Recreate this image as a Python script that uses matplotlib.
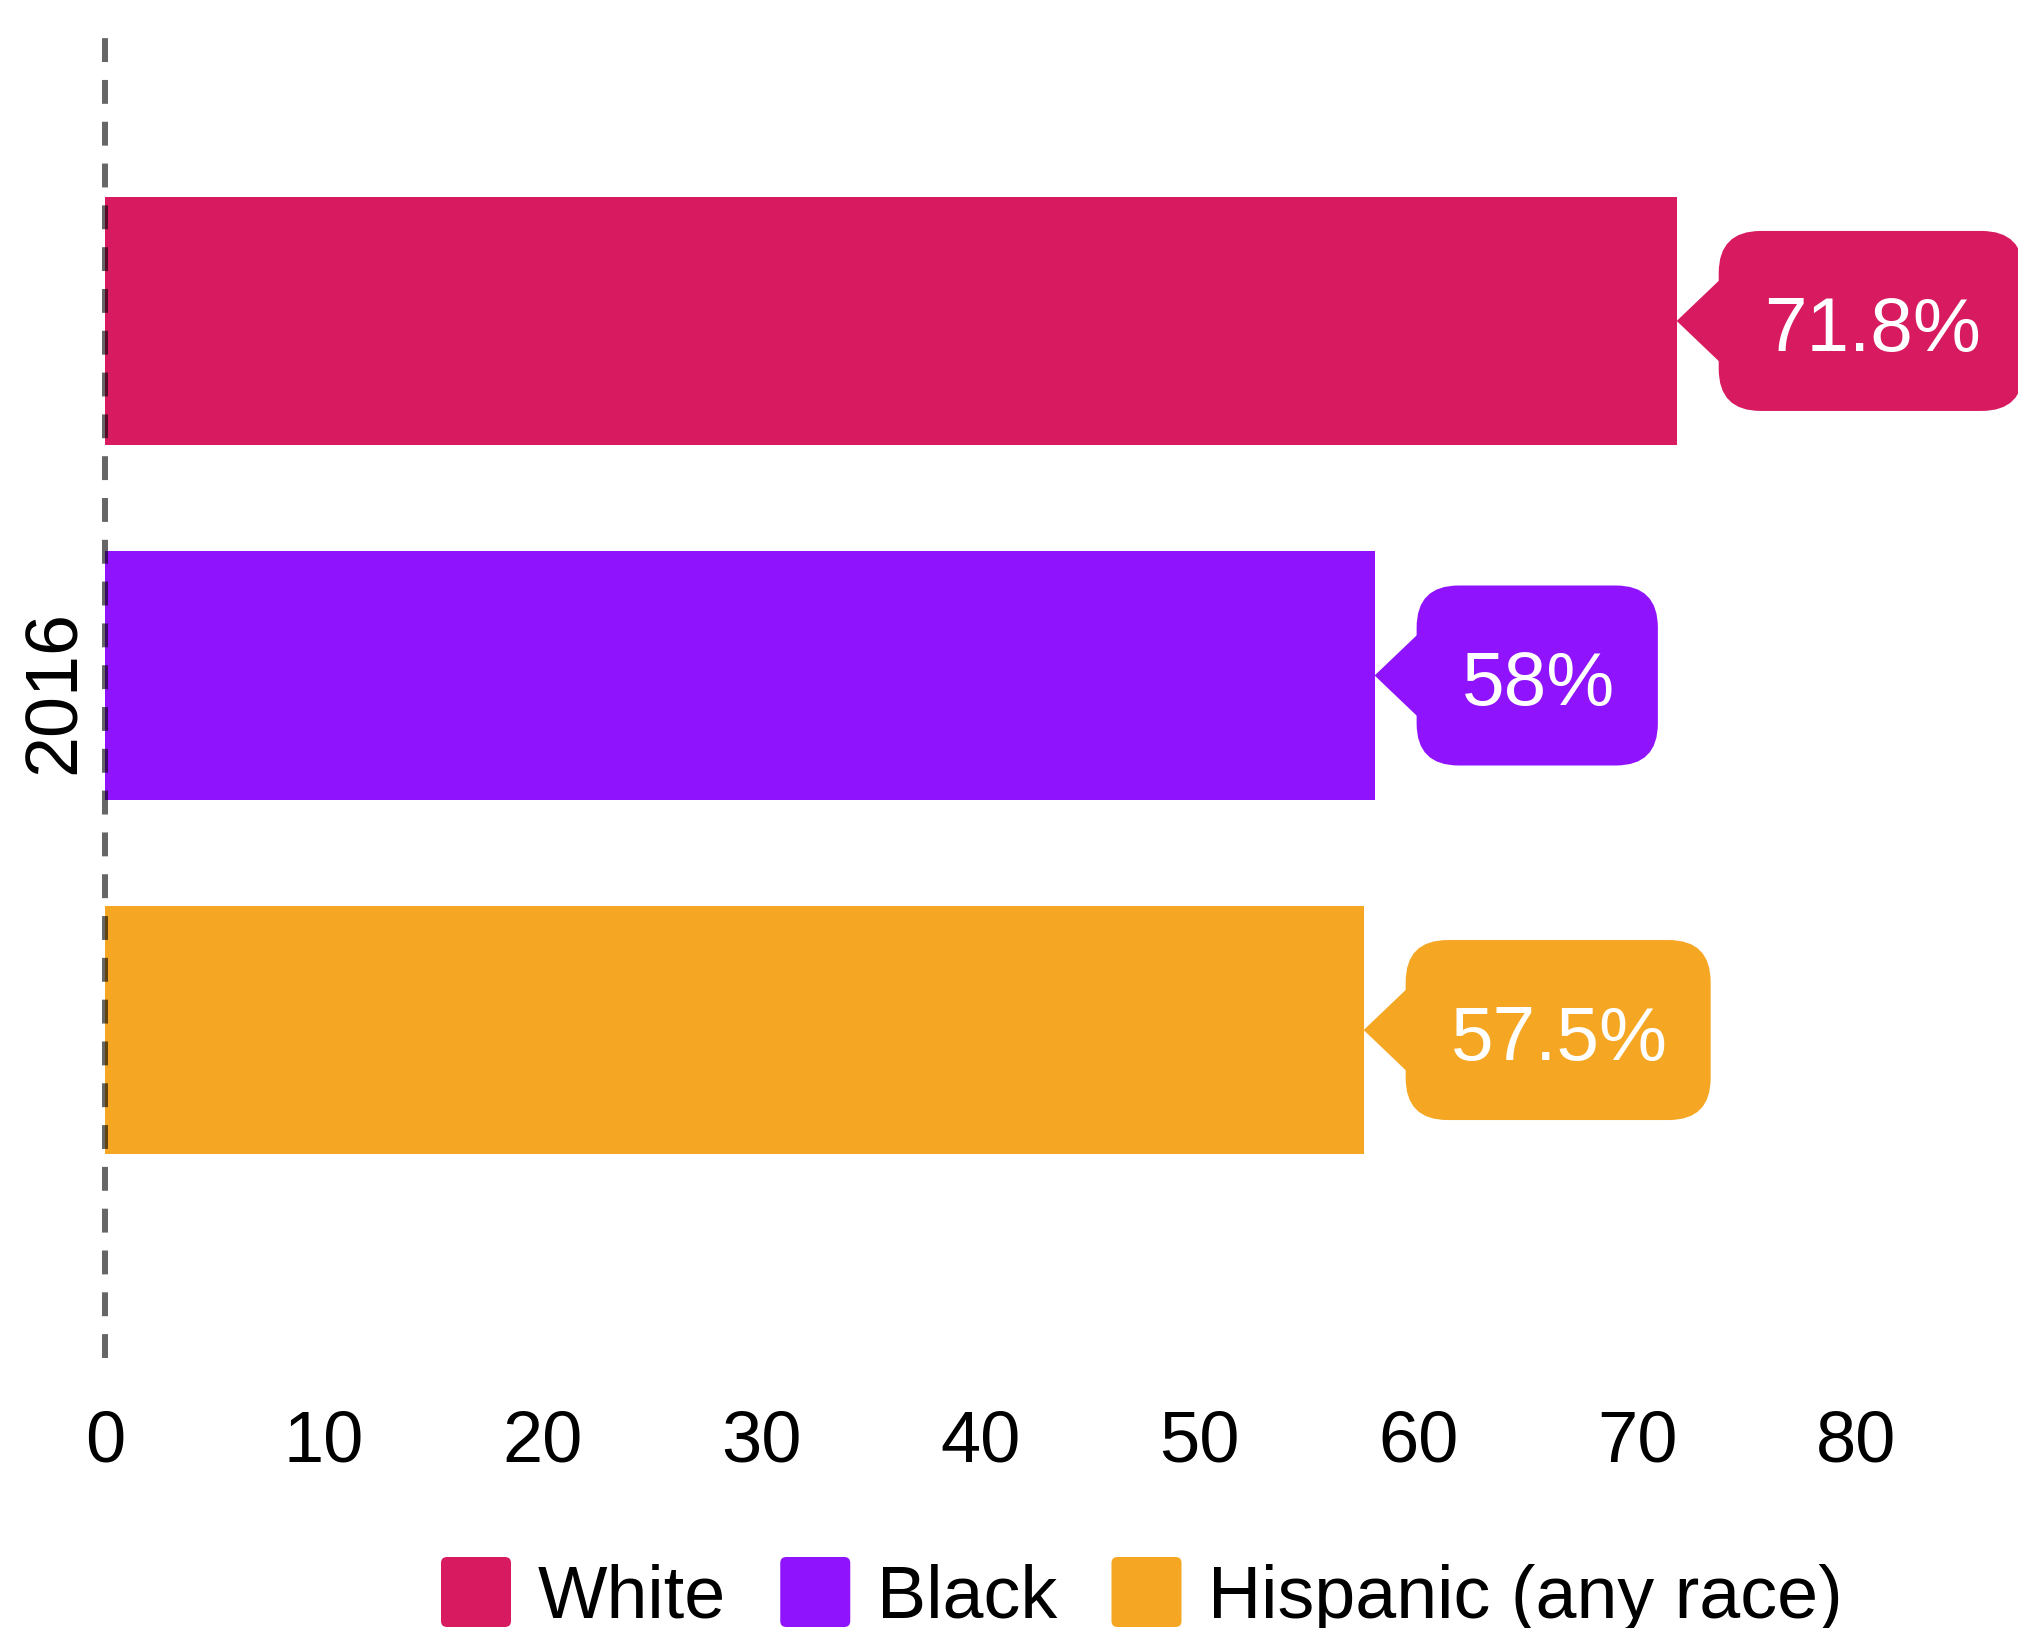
import matplotlib
matplotlib.use('Agg')
import matplotlib.pyplot as plt
from matplotlib.patches import FancyBboxPatch, Polygon
from matplotlib.transforms import IdentityTransform

plt.rcParams['font.family'] = ['Liberation Sans', 'DejaVu Sans']

# data
year = '2016'
groups = ['White', 'Black', 'Hispanic (any race)']
values = [71.8, 58.0, 57.5]
labels = ['71.8%', '58%', '57.5%']
colors = ['#D81B60', '#9013FE', '#F5A623']
xticks = [0, 10, 20, 30, 40, 50, 60, 70, 80]

W, H = 2018, 1628
px_per_unit = 21.89
fig = plt.figure(figsize=(W / 100, H / 100), dpi=100)
ax = fig.add_axes([105 / W, (H - 1358) / H, (W - 105) / W, 1326 / H])

pos = list(range(len(groups)))
ax.barh(pos, values, height=0.7, color=colors, zorder=2)
ax.set_ylim(2.925, -0.815)
ax.set_xlim(0, (W - 105) / px_per_unit)

# dashed line at zero
ax.axvline(0, color='black', alpha=0.6, lw=4.3, dashes=(4, 3), zorder=3, clip_on=False)

ax.set_xticks(xticks)
ax.set_xticklabels([str(t) for t in xticks])
ax.tick_params(axis='x', length=0, pad=37, labelsize=52)
ax.set_yticks([])
for s in ax.spines.values():
    s.set_visible(False)

fig.text(55 / W, 1 - 692 / H, year, rotation=90, ha='center', va='center', fontsize=53)

renderer = fig.canvas.get_renderer()
ident = IdentityTransform()

# value labels with pointer
for y, v, lab, c in zip(pos, values, labels, colors):
    tx, ty = ax.transData.transform((v, y))
    left = tx + 42
    t = ax.text(left + 45, ty - 30, lab, color='white', fontsize=55,
                ha='left', va='baseline', transform=ident, zorder=5, clip_on=False)
    w = t.get_window_extent(renderer).width
    box = FancyBboxPatch((left, ty - 90), w + 88, 180,
                         boxstyle='round,pad=0,rounding_size=42',
                         fc=c, ec='none', transform=ident, clip_on=False, zorder=4)
    ax.add_patch(box)
    tri = Polygon([(tx, ty), (left + 2, ty + 42), (left + 2, ty - 42)], closed=True,
                  fc=c, ec='none', transform=ident, clip_on=False, zorder=4)
    ax.add_patch(tri)

# legend
x = 441
for g, c in zip(groups, colors):
    key = FancyBboxPatch((x, 1), 70, 70, boxstyle='round,pad=0,rounding_size=6',
                         fc=c, ec='none', transform=ident)
    fig.add_artist(key)
    t = fig.text(x + 97, 10, g, fontsize=53, ha='left', va='baseline', transform=ident)
    x = x + 97 + t.get_window_extent(renderer).width + 54

fig.savefig('out.png', dpi=100)
